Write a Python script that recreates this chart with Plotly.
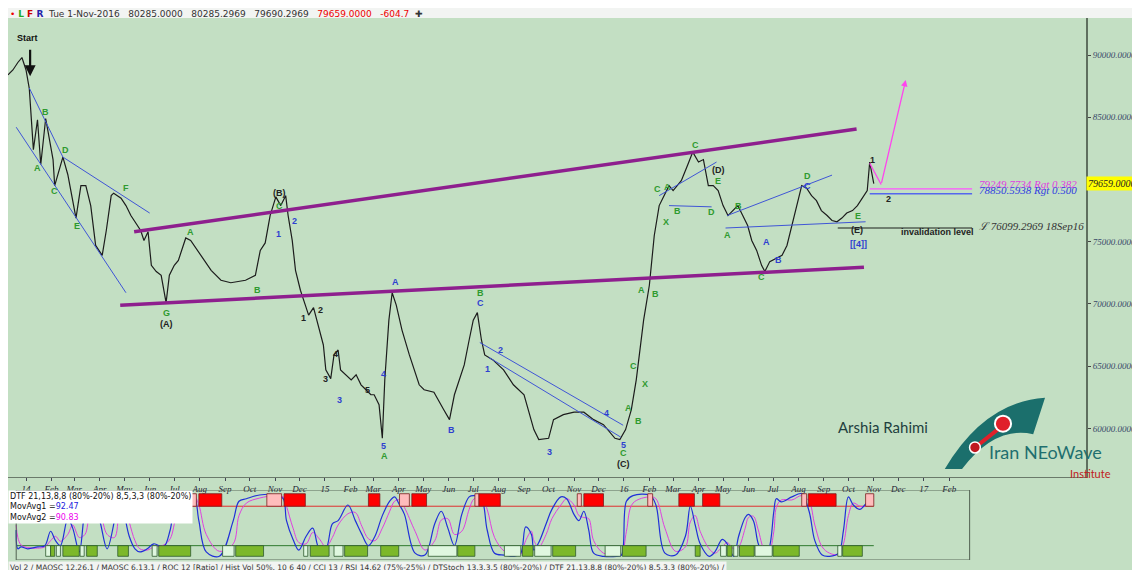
import plotly.graph_objects as go
from plotly.subplots import make_subplots

# price path (approximate swing points)
price_dates = [
    "2013-12-10", "2013-12-16", "2013-12-22", "2013-12-27", "2014-01-01", "2014-01-05", "2014-01-10",
    "2014-01-15", "2014-01-19", "2014-01-25", "2014-02-03", "2014-02-05", "2014-02-15", "2014-02-21",
    "2014-02-27", "2014-03-03", "2014-03-09", "2014-03-15", "2014-03-21", "2014-03-27", "2014-04-04",
    "2014-04-09", "2014-04-15", "2014-04-18", "2014-04-27", "2014-05-03", "2014-05-09", "2014-05-21",
    "2014-05-25", "2014-05-30", "2014-06-03", "2014-06-09", "2014-06-15", "2014-06-21", "2014-06-25",
    "2014-07-01", "2014-07-06", "2014-07-15", "2014-07-21", "2014-08-03", "2014-08-15", "2014-08-27",
    "2014-09-08", "2014-09-26", "2014-10-08", "2014-10-14", "2014-10-20", "2014-10-26", "2014-11-02",
    "2014-11-08", "2014-11-14", "2014-11-17", "2014-11-22", "2014-11-26", "2014-12-02", "2014-12-08",
    "2014-12-12", "2014-12-18", "2014-12-24", "2014-12-30", "2015-01-02", "2015-01-08", "2015-01-12",
    "2015-01-17", "2015-01-20", "2015-01-26", "2015-02-02", "2015-02-08", "2015-02-14", "2015-02-20",
    "2015-02-26", "2015-03-02", "2015-03-08", "2015-03-12", "2015-03-15", "2015-03-20", "2015-03-24",
    "2015-03-29", "2015-04-05", "2015-04-14", "2015-04-20", "2015-04-26", "2015-05-02", "2015-05-14",
    "2015-05-26", "2015-06-02", "2015-06-08", "2015-06-14", "2015-06-20", "2015-06-26", "2015-07-01",
    "2015-07-06", "2015-07-11", "2015-07-15", "2015-07-25", "2015-08-07", "2015-08-19", "2015-09-01",
    "2015-09-13", "2015-09-19", "2015-10-01", "2015-10-07", "2015-10-19", "2015-11-01", "2015-11-13",
    "2015-11-25", "2015-12-07", "2015-12-21", "2015-12-27", "2016-01-03", "2016-01-10", "2016-01-16",
    "2016-01-25", "2016-02-01", "2016-02-07", "2016-02-13", "2016-02-19", "2016-02-25", "2016-03-01",
    "2016-03-11", "2016-03-19", "2016-03-25", "2016-04-01", "2016-04-07", "2016-04-13", "2016-04-19",
    "2016-04-25", "2016-05-01", "2016-05-07", "2016-05-13", "2016-05-19", "2016-05-25", "2016-05-31",
    "2016-06-05", "2016-06-11", "2016-06-17", "2016-06-21", "2016-06-27", "2016-07-06", "2016-07-12",
    "2016-07-18", "2016-07-24", "2016-07-30", "2016-08-05", "2016-08-11", "2016-08-17", "2016-08-23",
    "2016-08-29", "2016-09-05", "2016-09-11", "2016-09-17", "2016-09-23", "2016-09-29", "2016-10-06",
    "2016-10-12", "2016-10-18", "2016-10-24", "2016-10-27", "2016-10-30", "2016-11-01",
]
price_values = [
    88400, 88800, 89400, 89800, 88800, 87300, 82400, 84800, 81200, 84900, 81600, 79500, 81800, 80400,
    78300, 76900, 79500, 79500, 77900, 74700, 73900, 75900, 78700, 78900, 78500, 77900, 77100, 75900,
    75100, 75800, 73100, 72600, 72300, 70100, 72300, 73100, 73500, 75300, 75100, 73900, 72700, 71900,
    71700, 71900, 72300, 74300, 74900, 77100, 78600, 77900, 78700, 77100, 75100, 72700, 71100, 69900,
    69100, 69700, 68300, 66700, 64700, 64000, 65900, 66300, 64700, 64300, 63900, 64300, 63500, 63100,
    62700, 62700, 61900, 59200, 63900, 68700, 70900, 69900, 67900, 65900, 64700, 63500, 63100, 62900,
    61500, 60700, 62700, 63900, 65100, 67100, 68700, 69300, 67100, 65900, 65500, 64700, 63500, 62700,
    59900, 59100, 59200, 60700, 61100, 61300, 61300, 60700, 60300, 59200, 59100, 59900, 61500, 63900,
    68700, 71500, 75500, 77900, 78700, 79500, 79100, 79900, 81200, 82200, 81400, 81600, 79500, 79500,
    79100, 77900, 77100, 77500, 77900, 77100, 76300, 75100, 74300, 73100, 72600, 73400, 73700, 73900,
    74700, 76300, 77900, 79500, 79300, 78700, 78300, 77500, 77100, 76700, 76600, 76900, 77300, 77500,
    77900, 78500, 79100, 81400, 80400, 79659,
]

# DTF oscillator (fast = blue, slow = magenta)
osc_dates = [
    "2013-12-20", "2013-12-22", "2013-12-26", "2014-01-03", "2014-01-15", "2014-01-24", "2014-01-31",
    "2014-02-06", "2014-02-12", "2014-02-21", "2014-02-27", "2014-03-07", "2014-03-14", "2014-03-20",
    "2014-03-27", "2014-04-02", "2014-04-10", "2014-04-19", "2014-04-25", "2014-05-01", "2014-05-07",
    "2014-05-14", "2014-05-20", "2014-05-29", "2014-06-06", "2014-06-18", "2014-06-26", "2014-07-04",
    "2014-07-16", "2014-07-25", "2014-07-31", "2014-08-09", "2014-08-25", "2014-09-11", "2014-09-18",
    "2014-09-27", "2014-10-13", "2014-11-02", "2014-11-11", "2014-11-15", "2014-11-23", "2014-11-30",
    "2014-12-09", "2014-12-17", "2014-12-25", "2015-01-02", "2015-01-10", "2015-01-17", "2015-01-29",
    "2015-02-07", "2015-02-15", "2015-02-23", "2015-03-03", "2015-03-12", "2015-03-21", "2015-03-27",
    "2015-04-02", "2015-04-08", "2015-04-21", "2015-05-03", "2015-05-15", "2015-05-23", "2015-05-31",
    "2015-06-08", "2015-06-17", "2015-06-26", "2015-07-02", "2015-07-11", "2015-07-18", "2015-07-27",
    "2015-08-08", "2015-08-20", "2015-08-28", "2015-09-03", "2015-09-10", "2015-09-13", "2015-09-19",
    "2015-09-28", "2015-10-05", "2015-10-16", "2015-10-23", "2015-11-01", "2015-11-07", "2015-11-13",
    "2015-11-19", "2015-11-25", "2015-12-07", "2015-12-23", "2015-12-29", "2016-01-04", "2016-01-12",
    "2016-02-02", "2016-02-09", "2016-02-20", "2016-03-04", "2016-03-16", "2016-03-22", "2016-03-28",
    "2016-04-03", "2016-04-14", "2016-04-21", "2016-04-30", "2016-05-06", "2016-05-14", "2016-05-20",
    "2016-05-28", "2016-06-01", "2016-06-07", "2016-06-13", "2016-06-20", "2016-06-26", "2016-07-02",
    "2016-07-05", "2016-07-11", "2016-07-24", "2016-08-05", "2016-08-14", "2016-08-21", "2016-08-30",
    "2016-09-08", "2016-09-19", "2016-09-25", "2016-10-01", "2016-10-07", "2016-10-15", "2016-10-21",
    "2016-11-01",
]
osc_fast = [
    42, 12, 15, 12, 15, 17, 40, 25, 17, 60, 45, 7, 72, 90, 82, 52, 12, 57, 97, 67, 32, 12, 7, 12, 20,
    15, 42, 95, 100, 97, 57, 7, 0, 57, 88, 92, 98, 98, 92, 57, 27, 10, 32, 45, 12, 12, 52, 57, 82, 57,
    35, 17, 32, 65, 88, 95, 82, 67, 5, 2, 52, 72, 45, 17, 67, 95, 97, 92, 42, 5, 2, 0, 5, 47, 35, 10,
    22, 52, 75, 95, 92, 67, 57, 72, 42, 5, 0, 0, 2, 88, 97, 97, 82, 5, 2, 32, 80, 50, 20, 0, 7, 27, 20,
    0, 32, 62, 67, 57, 20, 2, 12, 72, 92, 87, 95, 100, 72, 25, 2, 0, 5, 42, 95, 82, 75, 82, 97,
]
osc_slow = [
    50, 30, 18, 14, 13, 15, 25, 32, 24, 35, 50, 30, 35, 70, 85, 70, 35, 30, 70, 85, 55, 25, 12, 10, 15,
    18, 28, 65, 90, 97, 82, 35, 8, 20, 65, 85, 93, 97, 95, 80, 45, 22, 20, 38, 28, 15, 30, 50, 68, 70,
    48, 28, 25, 45, 72, 88, 90, 78, 40, 10, 25, 58, 60, 35, 40, 75, 92, 95, 75, 30, 8, 2, 3, 25, 40, 25,
    15, 35, 60, 82, 92, 82, 65, 62, 60, 25, 5, 2, 2, 40, 85, 95, 92, 45, 8, 15, 55, 65, 40, 12, 5, 15,
    22, 12, 15, 45, 62, 64, 42, 12, 8, 40, 78, 90, 90, 97, 88, 50, 15, 5, 3, 20, 65, 85, 80, 80, 90,
]

# overbought / oversold zones: (start, end, kind)
red_zones = [
    ("2014-04-01", "2014-04-23", "r"), ("2014-05-06", "2014-05-12", "p"), ("2014-05-16", "2014-06-01", "r"),
    ("2014-07-22", "2014-07-28", "p"), ("2014-07-31", "2014-08-28", "r"), ("2014-10-22", "2014-11-09", "p"),
    ("2014-11-12", "2014-12-08", "r"), ("2015-02-23", "2015-03-09", "r"), ("2015-04-02", "2015-04-14", "p"),
    ("2015-04-17", "2015-05-05", "r"), ("2015-07-03", "2015-07-08", "p"), ("2015-07-08", "2015-08-03", "r"),
    ("2015-11-05", "2015-11-10", "p"), ("2015-11-13", "2015-12-07", "r"), ("2016-01-30", "2016-02-05", "p"),
    ("2016-03-08", "2016-03-27", "r"), ("2016-04-06", "2016-04-27", "r"), ("2016-08-05", "2016-08-11", "p"),
    ("2016-08-13", "2016-09-16", "r"), ("2016-10-22", "2016-11-01", "p"),
]
green_zones = [
    ("2014-01-25", "2014-01-31", "l"), ("2014-01-31", "2014-02-05", "g"), ("2014-02-07", "2014-02-12", "l"),
    ("2014-02-15", "2014-03-07", "g"), ("2014-03-08", "2014-03-13", "l"), ("2014-03-16", "2014-03-29", "g"),
    ("2014-04-23", "2014-05-06", "g"), ("2014-06-04", "2014-06-10", "l"), ("2014-06-12", "2014-07-21", "g"),
    ("2014-08-29", "2014-09-12", "l"), ("2014-09-14", "2014-10-18", "g"), ("2014-12-06", "2014-12-11", "l"),
    ("2014-12-14", "2015-01-06", "g"), ("2015-01-12", "2015-01-23", "l"), ("2015-01-25", "2015-02-22", "g"),
    ("2015-03-10", "2015-04-01", "g"), ("2015-05-07", "2015-06-11", "l"), ("2015-06-12", "2015-07-03", "g"),
    ("2015-08-08", "2015-08-28", "l"), ("2015-08-30", "2015-09-12", "g"), ("2015-09-14", "2015-10-04", "l"),
    ("2015-10-06", "2015-11-03", "g"), ("2015-12-09", "2015-12-28", "l"), ("2015-12-30", "2016-01-28", "g"),
    ("2016-03-28", "2016-04-03", "g"), ("2016-04-28", "2016-05-05", "l"), ("2016-05-06", "2016-05-12", "g"),
    ("2016-05-14", "2016-05-19", "l"), ("2016-05-21", "2016-06-08", "g"), ("2016-06-09", "2016-06-30", "l"),
    ("2016-07-01", "2016-08-02", "g"), ("2016-09-18", "2016-09-23", "l"), ("2016-09-24", "2016-10-18", "g"),
]

# trend lines drawn on the chart
purple_lines = [
    (["2014-05-13", "2016-10-11"], [75800, 84050]),
    (["2014-04-26", "2016-10-20"], [69900, 72950]),
]
blue_lines = [
    (["2013-12-20", "2014-05-03"], [84200, 70900]),
    (["2014-01-05", "2014-02-15", "2014-06-01"], [87350, 81800, 77300]),
    (["2015-07-09", "2015-12-31"], [66900, 60250]),
    (["2015-07-20", "2015-12-28"], [65700, 59300]),
    (["2016-02-13", "2016-04-23"], [78700, 81400]),
    (["2016-02-25", "2016-04-17"], [77900, 77800]),
    (["2016-05-06", "2016-09-11"], [77100, 80350]),
    (["2016-05-04", "2016-10-22"], [76100, 76600]),
]
retr_levels = [79249.7734, 78850.5938]
invalidation = 76099.2969

GREEN, BLUE, BLACK = "#2f9a2f", "#2f3fd0", "#222222"
wave_labels = [
    ("A", "2014-01-15", 80900, GREEN), ("B", "2014-01-25", 85400, GREEN), ("C", "2014-02-05", 79100, GREEN),
    ("D", "2014-02-18", 82400, GREEN), ("E", "2014-03-04", 76300, GREEN), ("F", "2014-05-03", 79300, GREEN),
    ("G", "2014-06-21", 69300, GREEN), ("(A)", "2014-06-21", 68400, BLACK), ("A", "2014-07-21", 75800, GREEN),
    ("B", "2014-10-10", 71100, GREEN), ("(B)", "2014-11-06", 78900, BLACK), ("C", "2014-11-06", 77900, GREEN),
    ("1", "2014-11-05", 75600, BLUE), ("2", "2014-11-25", 76700, BLUE), ("1", "2014-12-06", 68900, BLACK),
    ("2", "2014-12-26", 69500, BLACK), ("3", "2015-01-02", 64000, BLACK), ("4", "2015-01-14", 66000, BLACK),
    ("5", "2015-02-22", 63100, BLACK), ("3", "2015-01-19", 62300, BLUE), ("4", "2015-03-13", 64400, BLUE),
    ("5", "2015-03-14", 58600, BLUE), ("A", "2015-03-15", 57800, GREEN), ("A", "2015-03-28", 71800, BLUE),
    ("B", "2015-06-05", 59900, BLUE), ("B", "2015-07-10", 70900, GREEN), ("C", "2015-07-10", 70100, BLUE),
    ("1", "2015-07-18", 64800, BLUE), ("2", "2015-08-03", 66300, BLUE), ("3", "2015-10-02", 58100, BLUE),
    ("4", "2015-12-11", 61200, BLUE), ("5", "2015-12-31", 58700, BLUE), ("C", "2015-12-31", 58000, GREEN),
    ("(C)", "2015-12-31", 57100, BLACK), ("A", "2016-01-07", 61600, GREEN), ("B", "2016-01-19", 60600, GREEN),
    ("C", "2016-01-13", 65000, GREEN), ("X", "2016-01-27", 63600, GREEN), ("A", "2016-01-23", 71100, GREEN),
    ("B", "2016-02-08", 70800, GREEN), ("X", "2016-02-21", 76600, GREEN), ("C", "2016-02-11", 79200, GREEN),
    ("A", "2016-02-23", 79400, GREEN), ("B", "2016-03-06", 77500, GREEN), ("C", "2016-03-28", 82800, GREEN),
    ("(D)", "2016-04-26", 80800, BLACK), ("E", "2016-04-25", 79900, GREEN), ("D", "2016-04-17", 77400, GREEN),
    ("A", "2016-05-07", 75500, GREEN), ("B", "2016-05-20", 77900, GREEN), ("A", "2016-06-23", 75000, BLUE),
    ("B", "2016-07-08", 73500, BLUE), ("C", "2016-06-17", 72200, GREEN), ("D", "2016-08-12", 80300, GREEN),
    ("C", "2016-08-12", 79500, BLUE), ("E", "2016-10-13", 77100, GREEN), ("(E)", "2016-10-11", 75900, BLACK),
    ("[[4]]", "2016-10-13", 74800, BLUE), ("1", "2016-10-31", 81600, BLACK), ("2", "2016-11-19", 78400, BLACK),
]

months = ["14", "Feb", "Mar", "Apr", "May", "Jun", "Jul", "Aug", "Sep", "Oct", "Nov", "Dec"]
tick_vals, tick_text = [], []
for yr in (2014, 2015, 2016, 2017):
    for m in range(1, 13):
        if yr == 2017 and m > 2:
            break
        tick_vals.append(f"{yr}-{m:02d}-01")
        tick_text.append(str(yr - 2000) if m == 1 else months[m - 1])

BG = "#c3dfc3"
fig = make_subplots(rows=2, cols=1, shared_xaxes=True, row_heights=[0.87, 0.13], vertical_spacing=0.026)

fig.add_trace(go.Scatter(x=price_dates, y=price_values, mode="lines", line=dict(color="#1c1c1c", width=1.2)), row=1, col=1)
for xs, ys in purple_lines:
    fig.add_trace(go.Scatter(x=xs, y=ys, mode="lines", line=dict(color="#8e1f8e", width=3.5)), row=1, col=1)
for xs, ys in blue_lines:
    fig.add_trace(go.Scatter(x=xs, y=ys, mode="lines", line=dict(color="#3f55d6", width=1)), row=1, col=1)
for lvl, col in zip(retr_levels, ["#ff55ff", "#5566ee"]):
    fig.add_trace(go.Scatter(x=["2016-10-27", "2017-03-01"], y=[lvl, lvl], mode="lines", line=dict(color=col, width=1.3)), row=1, col=1)
fig.add_trace(go.Scatter(x=["2016-09-18", "2017-03-01"], y=[invalidation, invalidation], mode="lines", line=dict(color="#6f7f6f", width=2)), row=1, col=1)
fig.add_trace(go.Scatter(x=["2016-10-27", "2016-11-10"], y=[81300, 79600], mode="lines", line=dict(color="#ff44ee", width=1.3)), row=1, col=1)

# oscillator panel
for start, end, kind in red_zones:
    fig.add_shape(type="rect", x0=start, x1=end, y0=80, y1=100, xref="x2", yref="y2",
                  fillcolor="#ff0000" if kind == "r" else "#ffbcbc", line=dict(color="#7a2020", width=0.8))
for start, end, kind in green_zones:
    fig.add_shape(type="rect", x0=start, x1=end, y0=0, y1=17, xref="x2", yref="y2",
                  fillcolor="#7cb82a" if kind == "g" else "#dff7df", line=dict(color="#2e5a2e", width=0.8))
fig.add_trace(go.Scatter(x=["2013-12-20", "2016-11-01"], y=[80, 80], mode="lines", line=dict(color="#e03030", width=1)), row=2, col=1)
fig.add_trace(go.Scatter(x=["2013-12-20", "2016-11-01"], y=[17, 17], mode="lines", line=dict(color="#2e7a2e", width=1)), row=2, col=1)
fig.add_trace(go.Scatter(x=osc_dates, y=osc_slow, mode="lines", line=dict(color="#e040e0", width=1, shape="spline")), row=2, col=1)
fig.add_trace(go.Scatter(x=osc_dates, y=osc_fast, mode="lines", line=dict(color="#2030d8", width=1.2, shape="spline")), row=2, col=1)
fig.add_shape(type="rect", x0="2013-12-20", x1="2017-02-26", y0=-6, y1=106, xref="x2", yref="y2", line=dict(color="#506050", width=1))

for text, d, p, col in wave_labels:
    fig.add_annotation(x=d, y=p, text=f"<b>{text}</b>", showarrow=False, font=dict(size=9, color=col, family="Arial"), xref="x", yref="y")
fig.add_annotation(x="2014-01-06", y=88300, ax=0, ay=-28, text="", showarrow=True, arrowhead=2, arrowwidth=2.2, arrowcolor="#111", xref="x", yref="y")
fig.add_annotation(x="2014-01-03", y=91400, text="<b>Start</b>", showarrow=False, font=dict(size=9, color="#111", family="Arial"))
fig.add_annotation(x="2016-12-10", y=88000, ax="2016-11-10", ay=79600, axref="x", ayref="y", text="", showarrow=True, arrowhead=2, arrowcolor="#ff44ee", arrowwidth=1.3)
fig.add_annotation(x="2016-12-02", y=75800, xanchor="left", text="<b>invalidation level</b>", showarrow=False, font=dict(size=9, color="#222", family="Arial"))
fig.add_annotation(x="2017-03-07", y=76300, xanchor="left", text="\u2112 76099.2969 18Sep16", showarrow=False, font=dict(size=11, color="#333", family="Liberation Serif", style="italic"))
fig.add_annotation(x="2017-03-07", y=79650, xanchor="left", text="79249.7734 Rgt 0.382", showarrow=False, font=dict(size=11, color="#e040e0", family="Liberation Serif", style="italic"))
fig.add_annotation(x="2017-03-07", y=79150, xanchor="left", text="78850.5938 Rgt 0.500", showarrow=False, font=dict(size=11, color="#3040e0", family="Liberation Serif", style="italic"))
fig.add_annotation(x=1.0, y=79659, xref="paper", yref="y", xanchor="left", text="79659.0000", showarrow=False, bgcolor="#ffff00",
                   font=dict(size=10, color="#222", family="Liberation Serif", style="italic"))

# header and footer strips
fig.add_shape(type="rect", xref="paper", yref="paper", x0=-0.01, x1=1.06, y0=1.0, y1=1.04, fillcolor="#f2f4f2", line=dict(width=0), layer="below")
fig.add_annotation(xref="paper", yref="paper", x=0.0, y=1.02, xanchor="left", showarrow=False, font=dict(size=9, family="DejaVu Sans", color="#333"),
                   text="<span style='color:#e00'>•</span> <b><span style='color:#2a2'>L</span> <span style='color:#c00'>F</span> <span style='color:#22a'>R</span></b>  "
                        "Tue 1-Nov-2016   80285.0000   80285.2969   79690.2969   <span style='color:#e00'>79659.0000   -604.7</span>  <b>✚</b>")
fig.add_annotation(xref="paper", yref="paper", x=0.0, y=0.016, yanchor="top", xanchor="left", showarrow=False, bgcolor="#f2f4f2",
                   font=dict(size=7.5, family="DejaVu Sans", color="#333"),
                   text="Vol 2 / MAOSC 12,26,1 / MAOSC 6,13,1 / ROC 12 [Ratio] / Hist Vol 50%, 10 6 40 / CCI 13 / RSI 14,62 (75%-25%) / DTStoch 13,3,3,5 (80%-20%) / DTF 21,13,8,8 (80%-20%) 8,5,3,3 (80%-20%) /")
fig.add_annotation(xref="paper", yref="paper", x=0.0, y=0.145, yanchor="top", xanchor="left", showarrow=False, bgcolor="#ffffff", align="left",
                   font=dict(size=8, family="DejaVu Sans", color="#111"),
                   text="DTF 21,13,8,8 (80%-20%) 8,5,3,3 (80%-20%)<br>MovAvg1 =<span style='color:#22d'>92.47</span><br>MovAvg2 =<span style='color:#e0e'>90.83</span>")

# logo
fig.add_shape(type="path", xref="paper", yref="paper",
              path="M 0.869 0.183 Q 0.906 0.305 0.962 0.312 L 0.951 0.246 Q 0.916 0.262 0.885 0.183 Z",
              fillcolor="#1b6f6c", line=dict(width=0))
fig.add_shape(type="path", xref="paper", yref="paper",
              path="M 0.897 0.222 L 0.923 0.262", line=dict(color="#e0202a", width=4))
fig.add_shape(type="circle", xref="paper", yref="paper", x0=0.9155, x1=0.9305, y0=0.2505, y1=0.2795, fillcolor="#e0202a", line=dict(color="#ffffff", width=2))
fig.add_shape(type="circle", xref="paper", yref="paper", x0=0.892, x1=0.902, y0=0.212, y1=0.232, fillcolor="#c01820", line=dict(color="#ffffff", width=1.5))
fig.add_annotation(xref="paper", yref="paper", x=0.855, y=0.239, showarrow=False, text="Arshia Rahimi", font=dict(size=15, family="Lato", color="#1f3f3f"))
fig.add_annotation(xref="paper", yref="paper", x=0.908, y=0.190, xanchor="left", showarrow=False, text="Iran NEoWave", font=dict(size=18, family="Lato", color="#1f6f6f"))
fig.add_annotation(xref="paper", yref="paper", x=0.983, y=0.160, xanchor="left", showarrow=False, text="Institute", font=dict(size=11, family="Lato", color="#c02020"))

fig.update_layout(
    width=1140, height=570, showlegend=False, paper_bgcolor=BG, plot_bgcolor=BG,
    margin=dict(l=0, r=62, t=10, b=8, autoexpand=False),
    yaxis=dict(domain=[0.168, 1.0]),
    yaxis2=dict(domain=[0.018, 0.145]),
)
fig.update_xaxes(range=["2013-12-20", "2017-07-19"], showgrid=False, zeroline=False, tickvals=tick_vals, ticktext=tick_text,
                 showticklabels=True, ticks="outside", ticklen=3, tickcolor="#445", showline=True, linecolor="#6a7a6a",
                 automargin=False, tickfont=dict(size=9, family="Liberation Serif", color="#223", style="italic"), row=1, col=1)
fig.update_xaxes(showgrid=False, showticklabels=False, zeroline=False, automargin=False, row=2, col=1)
fig.update_yaxes(range=[56070, 92975], side="right", showgrid=False, zeroline=False, showline=True, linecolor="#5f6f5f", linewidth=2,
                 tickvals=[60000, 65000, 70000, 75000, 80000, 85000, 90000], tickformat=".4f", ticks="outside", ticklen=3,
                 automargin=False, tickfont=dict(size=9, family="Liberation Serif", color="#3a4a6a", style="italic"), row=1, col=1)
fig.update_yaxes(range=[-6, 106], showgrid=False, showticklabels=False, zeroline=False, automargin=False, row=2, col=1)

fig.write_html("out.html")
